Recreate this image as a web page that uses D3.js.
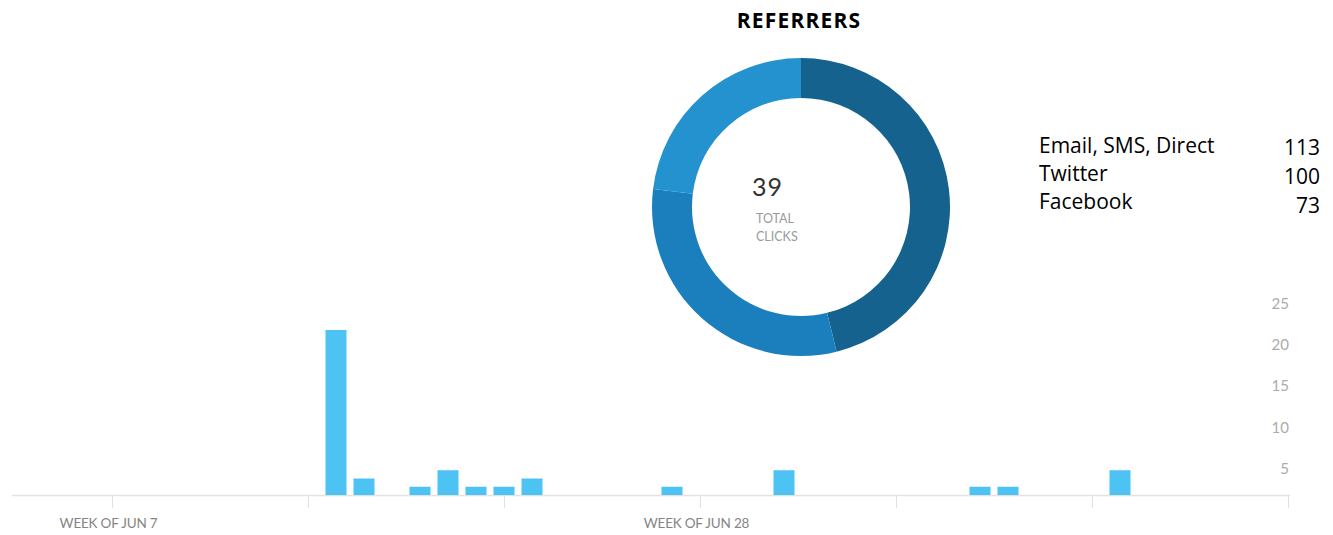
<!DOCTYPE html>
<html>
<head>
<meta charset="utf-8">
<script src="https://cdn.jsdelivr.net/npm/d3@7"></script>
<style>
  body { margin: 0; background: #fff; }
  svg { display: block; }
</style>
</head>
<body>
<svg id="chart" width="1333" height="535"></svg>
<script>
// Referrer clicks dashboard: donut of referrers + daily clicks bars

const referrerNames = ['Email, SMS, Direct', 'Twitter', 'Facebook'];
const referrerCounts = [113, 100, 73];

// donut slices, clockwise from 12 o'clock
const sliceValues = [18, 12, 9];
const sliceColors = ['#14628d', '#1b7fbe', '#2592d0'];

// daily clicks
const clickDates = ['2015-06-15', '2015-06-16', '2015-06-18', '2015-06-19', '2015-06-20',
  '2015-06-21', '2015-06-22', '2015-06-27', '2015-07-01', '2015-07-08', '2015-07-09', '2015-07-13'];
const clickCounts = [20, 2, 1, 3, 1, 1, 2, 1, 3, 1, 1, 3];

const yTickValues = [5, 10, 15, 20, 25];
const labelledWeeks = ['2015-06-07', '2015-06-28'];

const parse = d3.utcParse('%Y-%m-%d');
const fmtWeek = d3.utcFormat('%b %-d');

const svg = d3.select('#chart');

// ---- bar chart ----
const x = d3.scaleUtc()
  .domain([parse('2015-06-07'), parse('2015-07-19')])
  .range([112, 1288]);

const y = d3.scaleLinear()
  .domain([0, 25])
  .range([495, 288.75]);

const dayW = x(parse('2015-06-08')) - x(parse('2015-06-07'));
const barW = dayW - 7;

const bars = clickDates.map((d, i) => ({ date: parse(d), value: clickCounts[i] }));

// x axis line
svg.append('line')
  .attr('x1', 12)
  .attr('x2', 1290)
  .attr('y1', y(0) + 0.5)
  .attr('y2', y(0) + 0.5)
  .attr('stroke', '#e2e2e2')
  .attr('stroke-width', 1.5);

const labelled = labelledWeeks.map(d => +parse(d));

const xAxis = d3.axisBottom(x)
  .ticks(d3.utcWeek.every(1))
  .tickSize(13)
  .tickFormat(d => labelled.includes(+d) ? 'WEEK OF ' + fmtWeek(d).toUpperCase() : '');

const gx = svg.append('g')
  .attr('transform', `translate(0,${y(0)})`)
  .call(xAxis);
gx.select('.domain').remove();
gx.selectAll('.tick line').attr('stroke', '#e0e0e0');
gx.selectAll('.tick text')
  .attr('y', 33)
  .attr('dy', 0)
  .attr('x', -4)
  .attr('fill', '#858585')
  .style('font-family', 'Lato, sans-serif')
  .style('font-size', '13.5px')
  .style('letter-spacing', '-0.2px');

// y axis labels on the right
const yAxis = d3.axisRight(y)
  .tickValues(yTickValues)
  .tickSize(0)
  .tickPadding(0);

const gy = svg.append('g')
  .attr('transform', 'translate(1289,0)')
  .call(yAxis);
gy.select('.domain').remove();
gy.selectAll('.tick text')
  .attr('text-anchor', 'end')
  .attr('x', 0)
  .attr('dy', 19.5)
  .attr('fill', '#ababab')
  .style('font-family', 'Lato, sans-serif')
  .style('font-size', '15px');

svg.append('g')
  .selectAll('rect')
  .data(bars)
  .enter().append('rect')
  .attr('x', d => x(d.date) - barW / 2)
  .attr('y', d => y(d.value))
  .attr('width', barW)
  .attr('height', d => y(0) - y(d.value))
  .attr('fill', '#4dc3f4');

// ---- donut ----
const cx = 801, cy = 207;
const pie = d3.pie().sort(null).value(d => d);
const arc = d3.arc().innerRadius(109).outerRadius(149);

const donut = svg.append('g')
  .attr('transform', `translate(${cx},${cy})`);

donut.selectAll('path')
  .data(pie(sliceValues))
  .enter().append('path')
  .attr('d', arc)
  .attr('fill', (d, i) => sliceColors[i]);

donut.append('text')
  .attr('x', -49)
  .attr('y', -11)
  .attr('fill', '#333')
  .style('font-family', 'Lato, sans-serif')
  .style('font-size', '25px')
  .style('letter-spacing', '1px')
  .text(d3.sum(sliceValues));

donut.append('text')
  .attr('x', -45)
  .attr('y', 16)
  .attr('fill', '#9a9a9a')
  .style('font-family', 'Lato, sans-serif')
  .style('font-size', '12.5px')
  .text('TOTAL');

donut.append('text')
  .attr('x', -45)
  .attr('y', 34)
  .attr('fill', '#9a9a9a')
  .style('font-family', 'Lato, sans-serif')
  .style('font-size', '12.5px')
  .text('CLICKS');

// ---- title ----
svg.append('text')
  .attr('x', 799)
  .attr('y', 28)
  .attr('text-anchor', 'middle')
  .attr('fill', '#000')
  .style('font-family', '"Open Sans", sans-serif')
  .style('font-weight', 'bold')
  .style('font-size', '21px')
  .style('letter-spacing', '1.2px')
  .text('REFERRERS');

// ---- referrer list ----
const rows = svg.append('g')
  .selectAll('g')
  .data(referrerNames)
  .enter().append('g');

rows.append('text')
  .attr('x', 1039)
  .attr('y', (d, i) => 153 + i * 28)
  .attr('fill', '#000')
  .style('font-family', '"Open Sans", sans-serif')
  .style('font-size', '21px')
  .text(d => d);

rows.append('text')
  .attr('x', 1320)
  .attr('y', (d, i) => 155 + i * 29)
  .attr('text-anchor', 'end')
  .attr('fill', '#000')
  .style('font-family', '"Open Sans", sans-serif')
  .style('font-size', '21px')
  .text((d, i) => referrerCounts[i]);
</script>
</body>
</html>
